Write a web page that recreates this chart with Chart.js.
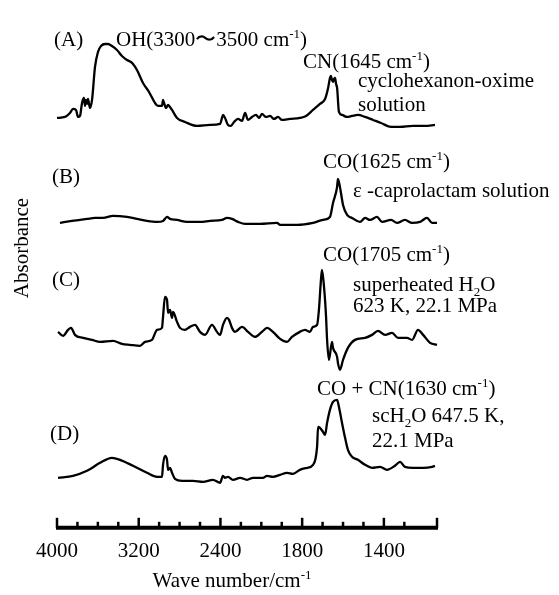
<!DOCTYPE html>
<html>
<head>
<meta charset="utf-8">
<script src="https://cdn.jsdelivr.net/npm/chart.js@4"></script>
<style>
  body { margin: 0; background: #fff; }
  canvas { display: block; }
</style>
</head>
<body>
<canvas id="irChart" width="559" height="595"></canvas>
<script>
// axis labels (wave number, cm-1); scale is doubled below 2000
const tickLabels = [4000, 3200, 2400, 1800, 1400];
const axisMax = 1140;

// vertical offset of each trace (stacked spectra)
const offsets = [400, 303, 182, 45];

// (A) cyclohexanon-oxime solution
const wnA = [4000, 3922, 3873, 3843, 3814, 3794, 3775, 3755, 3736, 3726, 3716, 3706, 3697, 3677, 3657, 3628, 3599, 3569, 3530, 3501,
  3462, 3413, 3364, 3315, 3276, 3256, 3217, 3158, 3099, 3041, 3011, 2972, 2962, 2952, 2933, 2913, 2894, 2874, 2825, 2747,
  2629, 2502, 2404, 2385, 2375, 2355, 2326, 2297, 2267, 2228, 2189, 2159, 2130, 2091, 2052, 2022, 1997, 1977, 1957, 1938,
  1918, 1899, 1860, 1811, 1781, 1747, 1713, 1688, 1673, 1664, 1659, 1654, 1649, 1644, 1639, 1634, 1629, 1620, 1605, 1580,
  1556, 1527, 1492, 1453, 1414, 1365, 1321, 1258, 1199, 1150];
const absA = [9, 10, 14, 18, 17, 10, 11, 24, 29, 21, 27, 23, 28, 19, 27, 60, 75, 81, 83, 83,
  81, 77, 71, 67, 65, 63, 57, 44, 35, 24, 21, 21, 27, 24, 19, 22, 20, 17, 9, 5,
  1, 2, 3, 9, 12, 9, 2, 1, 5, 8, 6, 14, 7, 10, 12, 9, 13, 10, 11, 8,
  10, 7, 8, 9, 11, 17, 23, 28, 39, 49, 51, 47, 45, 48, 49, 43, 39, 15, 12, 10,
  11, 12, 10, 7, 4, 0, 0, 1, 1, 2];

// (B) e-caprolactam solution
const wnB = [3971, 3853, 3775, 3706, 3628, 3550, 3452, 3315, 3217, 3119, 3021, 2962, 2923, 2894, 2825, 2727, 2600, 2502, 2385, 2336,
  2287, 2228, 2159, 2013, 1923, 1908, 1825, 1747, 1698, 1664, 1649, 1629, 1625, 1615, 1600, 1580, 1556, 1517, 1492, 1468,
  1434, 1409, 1365, 1336, 1297, 1262, 1223, 1189, 1164, 1140];
const absB = [1, 3, 4, 5, 6, 6, 8, 7, 5, 3, 2, 3, 7, 5, 4, 2, 2, 3, 4, 6,
  5, 2, 0, 0, 1, -1, -1, 1, 4, 7, 21, 37, 45, 37, 19, 9, 6, 2, 6, 4,
  7, 2, 4, 1, 4, 1, 2, 6, 1, 1];

// (C) superheated H2O, 623 K, 22.1 MPa
const wnC = [3990, 3941, 3892, 3863, 3824, 3745, 3657, 3579, 3452, 3364, 3285, 3187, 3138, 3070, 3021, 2972, 2962, 2943, 2923, 2913,
  2894, 2874, 2864, 2825, 2796, 2747, 2698, 2649, 2600, 2551, 2483, 2434, 2404, 2375, 2336, 2316, 2287, 2257, 2189, 2130,
  2062, 1997, 1972, 1943, 1908, 1874, 1850, 1811, 1786, 1762, 1747, 1727, 1718, 1708, 1703, 1693, 1683, 1678, 1669, 1654,
  1649, 1629, 1625, 1615, 1600, 1576, 1541, 1492, 1458, 1429, 1394, 1360, 1331, 1287, 1262, 1233, 1208, 1174, 1140];
const absC = [13, 9, 15, 17, 10, 7, 5, 3, 4, 1, 0, -1, 3, 5, 15, 17, 28, 48, 45, 32,
  35, 27, 33, 23, 17, 15, 18, 20, 13, 10, 20, 13, 10, 20, 27, 25, 17, 13, 18, 13,
  8, 13, 17, 13, 6, 3, 8, 13, 15, 13, 18, 20, 35, 65, 75, 58, 28, 5, -15, 3,
  -3, -12, -18, -25, -15, -3, 5, 7, 10, 14, 10, 12, 7, 7, 5, 15, 10, 2, 0];

// (D) scH2O 647.5 K, 22.1 MPa
const wnD = [3990, 3843, 3706, 3579, 3462, 3383, 3256, 3119, 3021, 2972, 2962, 2943, 2923, 2913, 2894, 2874, 2845, 2776, 2669, 2571,
  2473, 2404, 2375, 2355, 2326, 2277, 2208, 2140, 2081, 1992, 1972, 1943, 1908, 1874, 1845, 1811, 1776, 1747, 1727, 1722,
  1713, 1698, 1688, 1678, 1664, 1649, 1629, 1620, 1605, 1590, 1576, 1556, 1527, 1492, 1458, 1419, 1385, 1346, 1321, 1297,
  1258, 1208, 1164, 1150];
const absD = [4, 6, 11, 19, 24, 22, 16, 9, 5, 5, 17, 26, 22, 12, 14, 9, 3, 1, 1, 0,
  2, -1, 6, 4, 5, 2, 4, 2, 4, 4, 6, 5, 7, 9, 8, 12, 14, 17, 35, 55,
  54, 50, 47, 59, 72, 80, 82, 75, 59, 44, 32, 25, 22, 17, 14, 15, 12, 16, 20, 15,
  14, 14, 15, 16];

// text on the plot; ^{..} superscript, _{..} subscript
const notes = [
  ['(A)', 54, 46],
  ['OH(3300\u301C3500 cm^{-1})', 116, 46],
  ['CN(1645 cm^{-1})', 303, 68],
  ['cyclohexanon-oxime', 358, 87],
  ['solution', 358, 111],
  ['(B)', 52, 183],
  ['CO(1625 cm^{-1})', 323, 168],
  ['\u03B5 -caprolactam solution', 353, 197],
  ['CO(1705 cm^{-1})', 323, 261],
  ['(C)', 52, 286],
  ['superheated H_{2}O', 353, 291],
  ['623 K, 22.1 MPa', 353, 312],
  ['CO + CN(1630 cm^{-1})', 317, 395],
  ['scH_{2}O 647.5 K,', 372, 422],
  ['22.1 MPa', 372, 447],
  ['(D)', 50, 440]
];

const FONT = "'Liberation Serif', 'Times New Roman', serif";

// wave number -> linear position (200 cm-1 per step above 2000, 100 below)
function toU(wn) {
  return wn >= 2000 ? (4000 - wn) / 200 : 10 + (2000 - wn) / 100;
}
function fromU(u) {
  return u <= 10 ? 4000 - u * 200 : 2000 - (u - 10) * 100;
}

const majorU = tickLabels.map(toU);

function series(wn, abs, off) {
  return wn.map((w, i) => ({ x: toU(w), y: abs[i] + off }));
}

function drawRich(ctx, str, x, y, align) {
  const parts = [];
  const re = /\^\{([^}]*)\}|_\{([^}]*)\}|([^^_]+)/g;
  let m;
  while ((m = re.exec(str)) !== null) {
    if (m[1] !== undefined) parts.push([m[1], 'sup']);
    else if (m[2] !== undefined) parts.push([m[2], 'sub']);
    else parts.push([m[3], '']);
  }
  const fontFor = mode => (mode ? '13px ' : '21px ') + FONT;
  let total = 0;
  parts.forEach(p => { ctx.font = fontFor(p[1]); total += ctx.measureText(p[0]).width; });
  let cx = align === 'center' ? x - total / 2 : x;
  parts.forEach(p => {
    ctx.font = fontFor(p[1]);
    const dy = p[1] === 'sup' ? -8 : (p[1] === 'sub' ? 5 : 0);
    ctx.fillText(p[0], cx, y + dy);
    cx += ctx.measureText(p[0]).width;
  });
}

const spectrumAxis = {
  id: 'spectrumAxis',
  afterDraw(chart) {
    const ctx = chart.ctx;
    const xs = chart.scales.x;
    const y0 = chart.chartArea.bottom + 1;
    ctx.save();
    ctx.strokeStyle = '#000';
    ctx.lineWidth = 4;
    ctx.beginPath();
    ctx.moveTo(xs.left - 1, y0);
    ctx.lineTo(xs.right + 1, y0);
    ctx.stroke();
    ctx.lineWidth = 2.5;
    xs.ticks.forEach(t => {
      const px = xs.getPixelForValue(t.value);
      const major = majorU.some(u => Math.abs(u - t.value) < 0.01) || Math.abs(t.value - xs.max) < 0.01;
      ctx.beginPath();
      ctx.moveTo(px, y0);
      ctx.lineTo(px, y0 - (major ? 10 : 6));
      ctx.stroke();
    });

    ctx.fillStyle = '#000';
    ctx.textBaseline = 'alphabetic';
    notes.forEach(n => drawRich(ctx, n[0], n[1], n[2], 'left'));
    drawRich(ctx, 'Wave number/cm^{-1}', 232, 587, 'center');

    ctx.translate(28, 248);
    ctx.rotate(-Math.PI / 2);
    drawRich(ctx, 'Absorbance', 0, 0, 'center');
    ctx.restore();
  }
};

const lineStyle = {
  borderColor: '#000',
  borderWidth: 2.3,
  pointRadius: 0,
  cubicInterpolationMode: 'monotone',
  fill: false,
  clip: false
};

new Chart(document.getElementById('irChart'), {
  type: 'line',
  data: {
    datasets: [
      { label: 'A', data: series(wnA, absA, offsets[0]), ...lineStyle },
      { label: 'B', data: series(wnB, absB, offsets[1]), ...lineStyle },
      { label: 'C', data: series(wnC, absC, offsets[2]), ...lineStyle },
      { label: 'D', data: series(wnD, absD, offsets[3]), ...lineStyle }
    ]
  },
  options: {
    responsive: false,
    animation: false,
    layout: { padding: { left: 57, right: 122, top: 0, bottom: 19 } },
    plugins: {
      legend: { display: false },
      tooltip: { enabled: false }
    },
    scales: {
      x: {
        type: 'linear',
        min: 0,
        max: toU(axisMax),
        grid: { display: false, drawTicks: false },
        border: { display: false },
        ticks: {
          stepSize: 1,
          autoSkip: false,
          maxRotation: 0,
          padding: 12,
          color: '#000',
          font: { family: FONT, size: 21 },
          callback: v => majorU.some(u => Math.abs(u - v) < 0.01) ? String(Math.round(fromU(v))) : ''
        }
      },
      y: {
        display: false,
        min: 0,
        max: 527
      }
    }
  },
  plugins: [spectrumAxis]
});
</script>
</body>
</html>
